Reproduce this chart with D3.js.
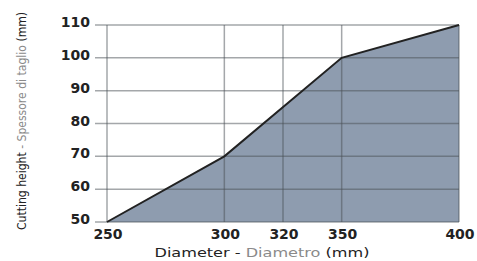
<!DOCTYPE html>
<html>
<head>
<meta charset="utf-8">
<script src="https://cdn.jsdelivr.net/npm/d3@7"></script>
<style>
  body { margin: 0; background: #fff; }
  svg { display: block; }
</style>
</head>
<body>
<svg id="chart"></svg>
<script>
const WIDTH = 477;
const HEIGHT = 261;

// data
const diameters = [250, 300, 350, 400];
const heights = [50, 70, 100, 110];
const xTicks = [250, 300, 320, 350, 400];
const yTicks = [50, 60, 70, 80, 90, 100, 110];

const plotL = 107, plotR = 459, plotT = 25, plotB = 222;

const svg = d3.select("#chart")
    .attr("width", WIDTH)
    .attr("height", HEIGHT);

// x axis of the original is not to scale: the ticks are spaced by position
const w = plotR - plotL;
const x = d3.scaleLinear()
    .domain(xTicks)
    .range([plotL, plotL + w / 3, plotL + w / 2, plotL + w * 2 / 3, plotR]);

const y = d3.scaleLinear()
    .domain([50, 110])
    .range([plotB, plotT]);

const pts = diameters.map((d, i) => [d, heights[i]]);

// area
svg.append("path")
    .datum(pts)
    .attr("fill", "#8e9caf")
    .attr("d", d3.area()
        .x(d => x(d[0]))
        .y0(y(50))
        .y1(d => y(d[1])));

// grid
svg.append("g")
    .selectAll("line")
    .data(yTicks)
    .join("line")
    .attr("x1", 95)
    .attr("x2", plotR)
    .attr("y1", d => y(d))
    .attr("y2", d => y(d))
    .attr("stroke", "#4a4f55")
    .attr("stroke-opacity", 0.5)
    .attr("stroke-width", 1.5);

svg.append("g")
    .selectAll("line")
    .data(xTicks)
    .join("line")
    .attr("x1", d => x(d))
    .attr("x2", d => x(d))
    .attr("y1", plotT)
    .attr("y2", plotB)
    .attr("stroke", "#4a4f55")
    .attr("stroke-opacity", 0.5)
    .attr("stroke-width", 1.5);

// outline
svg.append("path")
    .datum(pts)
    .attr("fill", "none")
    .attr("stroke", "#222")
    .attr("stroke-width", 2)
    .attr("d", d3.line()
        .x(d => x(d[0]))
        .y(d => y(d[1])));

// tick labels
svg.append("g")
    .style("font", "bold 14px 'DejaVu Sans'")
    .attr("fill", "#222")
    .attr("text-anchor", "end")
    .selectAll("text")
    .data(yTicks)
    .join("text")
    .attr("x", 90)
    .attr("y", d => y(d) + 2)
    .text(d => d);

svg.append("g")
    .style("font", "bold 14px 'DejaVu Sans'")
    .attr("fill", "#222")
    .attr("text-anchor", "middle")
    .selectAll("text")
    .data(xTicks)
    .join("text")
    .attr("x", d => x(d) + 1)
    .attr("y", 239)
    .text(d => d);

// axis titles
const xt = svg.append("text")
    .attr("x", 262)
    .attr("y", 257)
    .attr("text-anchor", "middle")
    .attr("textLength", 215)
    .attr("lengthAdjust", "spacingAndGlyphs")
    .style("font", "13px 'DejaVu Sans'")
    .attr("fill", "#222");
xt.append("tspan").text("Diameter - ");
xt.append("tspan").attr("fill", "#8a8a8a").text("Diametro");
xt.append("tspan").text(" (mm)");

const yt = svg.append("text")
    .attr("transform", "translate(26,121) rotate(-90)")
    .attr("text-anchor", "middle")
    .attr("textLength", 218)
    .attr("lengthAdjust", "spacingAndGlyphs")
    .style("font", "11.5px 'DejaVu Sans'")
    .attr("fill", "#222");
yt.append("tspan").text("Cutting height ");
yt.append("tspan").attr("fill", "#8a8a8a").text("- Spessore di taglio ");
yt.append("tspan").text("(mm)");
</script>
</body>
</html>
